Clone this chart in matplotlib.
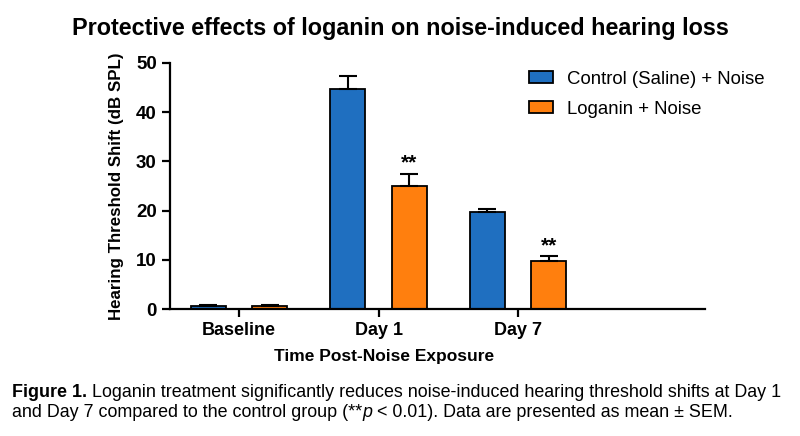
import matplotlib
matplotlib.use('Agg')
import matplotlib.pyplot as plt
import numpy as np

# Data
groups = ['Baseline', 'Day 1', 'Day 7']
control_mean = [0.7, 44.6, 19.7]
control_sem = [0.2, 2.8, 0.7]
loganin_mean = [0.7, 25.0, 9.8]
loganin_sem = [0.2, 2.4, 0.9]
signif = ['', '**', '**']

plt.rcParams['font.family'] = ['Liberation Sans', 'DejaVu Sans']

fig = plt.figure(figsize=(8, 4.36), dpi=100)
ax = fig.add_axes([0.2125, 0.291, 0.669, 0.565])

x = np.arange(len(groups))
w = 0.25
off = 0.22
blue = '#1f6fc0'
orange = '#ff7f0e'

err_kw = dict(elinewidth=1.5, capthick=1.5, ecolor='black')
ax.bar(x - off, control_mean, w, color=blue, edgecolor='black', linewidth=1.3,
       label='Control (Saline) + Noise')
ax.bar(x + off, loganin_mean, w, color=orange, edgecolor='black', linewidth=1.3,
       label='Loganin + Noise')
# upper-only error bars
ax.errorbar(x - off, control_mean, yerr=[np.zeros(3), control_sem], fmt='none',
            capsize=6.5, **err_kw)
ax.errorbar(x + off, loganin_mean, yerr=[np.zeros(3), loganin_sem], fmt='none',
            capsize=6.5, **err_kw)

for i, s in enumerate(signif):
    if s:
        ax.text(x[i] + off, loganin_mean[i] + loganin_sem[i] + 0.3, s,
                ha='center', va='bottom', fontsize=15, fontweight='bold')

ax.set_xlim(-0.495, 3.34)
ax.set_ylim(0, 50)
ax.set_yticks([0, 10, 20, 30, 40, 50])
ax.set_xticks(x)
ax.set_xticklabels(groups)
for side in ['top', 'right']:
    ax.spines[side].set_visible(False)
for side in ['left', 'bottom']:
    ax.spines[side].set_linewidth(1.6)
ax.tick_params(axis='x', width=1.6, length=6, labelsize=13)
ax.tick_params(axis='y', width=1.6, length=6, labelsize=13.5)
for lbl in ax.get_xticklabels() + ax.get_yticklabels():
    lbl.set_fontweight('bold')

ax.set_ylabel('Hearing Threshold Shift (dB SPL)', fontsize=12.2, fontweight='bold', labelpad=9)
ax.set_xlabel('Time Post-Noise Exposure', fontsize=12.5, fontweight='bold')
ax.xaxis.set_label_coords(0.40, -0.16)

ax.legend(loc='upper left', bbox_to_anchor=(0.64, 1.035), frameon=False, fontsize=13.4,
          handlelength=1.3, handleheight=0.6, labelspacing=0.7, handletextpad=0.75)

fig.text(0.5, 0.935, 'Protective effects of loganin on noise-induced hearing loss',
         ha='center', va='center', fontsize=16.8, fontweight='bold')

# caption with mixed styles, placed piece by piece
renderer = fig.canvas.get_renderer()


def caption_line(y, pieces, x0=0.015, size=12.9):
    xpos = x0
    for txt, kw in pieces:
        t = fig.text(xpos, y, txt, fontsize=size, va='baseline', **kw)
        bb = t.get_window_extent(renderer)
        xpos += bb.width / fig.bbox.width


caption_line(0.089, [('Figure 1.', dict(fontweight='bold')),
                     (' Loganin treatment significantly reduces noise-induced hearing threshold shifts at Day 1', {})])
caption_line(0.043, [('and Day 7 compared to the control group (**', {}),
                     ('p', dict(style='italic')),
                     (' < 0.01). Data are presented as mean \u00b1 SEM.', {})])

fig.savefig('out.png', dpi=100)
